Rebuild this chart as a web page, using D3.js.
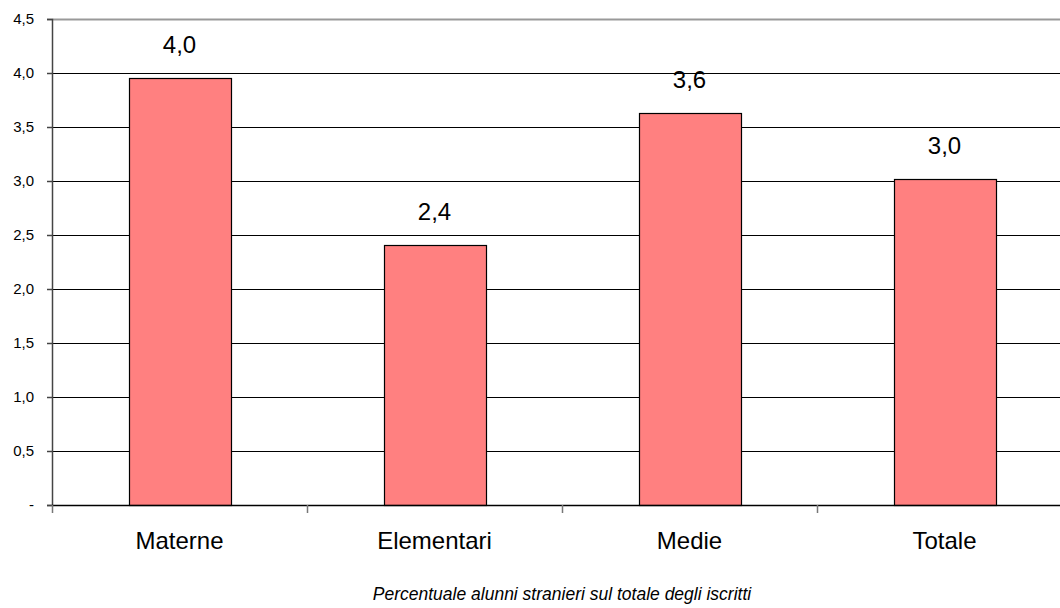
<!DOCTYPE html>
<html>
<head>
<meta charset="utf-8">
<script src="https://cdn.jsdelivr.net/npm/d3@7"></script>
<style>
  body { margin: 0; background: #fff; }
  svg { display: block; font-family: Arial, "Liberation Sans", sans-serif; }
</style>
</head>
<body>
<div id="chart"></div>
<script>
var categorie = ["Materne", "Elementari", "Medie", "Totale"];
var valori = [3.95, 2.41, 3.63, 3.02];
var etichette = ["4,0", "2,4", "3,6", "3,0"];
var yTicks = [0, 0.5, 1, 1.5, 2, 2.5, 3, 3.5, 4, 4.5];
var yTickLabels = ["-", "0,5", "1,0", "1,5", "2,0", "2,5", "3,0", "3,5", "4,0", "4,5"];
var titolo = "Percentuale alunni stranieri sul totale degli iscritti";

var width = 1060,
    height = 608,
    margin = {left: 52, top: 19, right: -12, bottom: 103},
    innerW = width - margin.left - margin.right,
    innerH = height - margin.top - margin.bottom;

var svg = d3.select("#chart").append("svg")
    .attr("width", width)
    .attr("height", height);

var chart = svg.append("g")
    .attr("transform", "translate(" + margin.left + "," + margin.top + ")");

var xb = d3.scaleBand().domain(categorie).range([0, innerW]);
var y = d3.scaleLinear().domain([0, 4.5]).range([innerH, 0]);

// griglia
chart.selectAll("line.grid")
  .data(yTicks.slice(1))
  .enter().append("line")
    .attr("class", "grid")
    .attr("x1", 0).attr("x2", innerW)
    .attr("y1", function (d) { return Math.round(y(d)) + 0.5; })
    .attr("y2", function (d) { return Math.round(y(d)) + 0.5; })
    .attr("stroke", function (d) { return d === 4.5 ? "#999" : "#000"; })
    .attr("stroke-width", function (d) { return d === 4.5 ? 2 : 1.2; });

// barre
chart.selectAll("rect.bar")
  .data(valori)
  .enter().append("rect")
    .attr("class", "bar")
    .attr("x", function (d, i) { return Math.round(xb(categorie[i]) + xb.bandwidth() / 2 - 51) + 0.5; })
    .attr("width", 102)
    .attr("y", function (d) { return Math.round(y(d)) + 0.5; })
    .attr("height", function (d) { return innerH - Math.round(y(d)); })
    .attr("fill", "#ff8080")
    .attr("stroke", "#000")
    .attr("stroke-width", 1.2);

// etichette valori
chart.selectAll("text.val")
  .data(valori)
  .enter().append("text")
    .attr("class", "val")
    .attr("x", function (d, i) { return xb(categorie[i]) + xb.bandwidth() / 2; })
    .attr("y", function (d) { return y(d) - 25; })
    .attr("text-anchor", "middle")
    .attr("font-size", 24)
    .attr("fill", "#000")
    .text(function (d, i) { return etichette[i]; });

// asse y
var yAxis = chart.append("g")
  .call(d3.axisLeft(y).tickValues(yTicks).tickSize(5).tickPadding(13)
    .tickFormat(function (d, i) { return yTickLabels[i]; }));
yAxis.select(".domain").attr("stroke", "#444").attr("stroke-width", 1.5);
yAxis.selectAll(".tick line").attr("stroke", "#444").attr("stroke-width", 1.5);
yAxis.selectAll(".tick text").attr("font-size", 15).attr("fill", "#000")
  .attr("font-family", "Arial, 'Liberation Sans', sans-serif");

// asse x
var xAxis = chart.append("g")
  .attr("transform", "translate(0," + innerH + ")");
xAxis.append("line")
  .attr("x1", 0).attr("x2", innerW).attr("y1", 0.5).attr("y2", 0.5)
  .attr("stroke", "#000").attr("stroke-width", 1.5);
xAxis.selectAll("line.tk")
  .data(categorie)
  .enter().append("line")
    .attr("class", "tk")
    .attr("x1", function (d) { return Math.round(xb(d)) + 0.5; })
    .attr("x2", function (d) { return Math.round(xb(d)) + 0.5; })
    .attr("y1", 0).attr("y2", 8)
    .attr("stroke", "#777").attr("stroke-width", 1.5);
xAxis.selectAll("text")
  .data(categorie)
  .enter().append("text")
    .attr("x", function (d) { return xb(d) + xb.bandwidth() / 2; })
    .attr("y", 44)
    .attr("text-anchor", "middle")
    .attr("font-size", 24)
    .attr("fill", "#000")
    .text(function (d) { return d; });

// titolo
svg.append("text")
  .attr("x", 562)
  .attr("y", 600)
  .attr("text-anchor", "middle")
  .attr("font-size", 17.5)
  .attr("font-style", "italic")
  .attr("fill", "#000")
  .text(titolo);
</script>
</body>
</html>
